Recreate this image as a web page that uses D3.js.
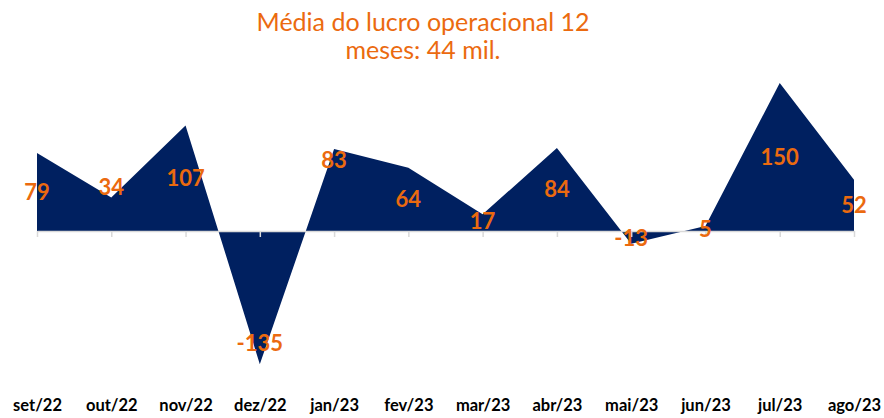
<!DOCTYPE html>
<html>
<head>
<meta charset="utf-8">
<script src="https://cdn.jsdelivr.net/npm/d3@7"></script>
<style>
  body { margin: 0; background: #fff; }
  svg { display: block; font-family: Lato, "Open Sans", sans-serif; }
</style>
</head>
<body>
<div id="chart"></div>
<script>
const months = ["set/22", "out/22", "nov/22", "dez/22", "jan/23", "fev/23",
  "mar/23", "abr/23", "mai/23", "jun/23", "jul/23", "ago/23"];
const profit = [79, 34, 107, -135, 83, 64, 17, 84, -13, 5, 150, 52];
// where each data label sits, in data units (null = middle of the area)
const labelAt = [null, 45, null, -114, 72, null, 10, null, -7, 2, null, null];
const titleLines = ["Média do lucro operacional 12", "meses: 44 mil."];

const W = 884, H = 418;
const NAVY = "#002060";
const ORANGE = "#EB6A0F";

const svg = d3.select("#chart").append("svg")
  .attr("width", W)
  .attr("height", H);

const x = d3.scalePoint().domain(months).range([37, 854]);
const y = d3.scaleLinear().domain([-150, 150]).range([379, 83]);

const data = months.map((m, i) => ({ month: m, value: profit[i], lab: labelAt[i] }));

// title
svg.append("text")
  .attr("x", 423)
  .attr("y", 31)
  .attr("text-anchor", "middle")
  .attr("font-size", "25px")
  .attr("fill", ORANGE)
  .selectAll("tspan")
  .data(titleLines)
  .join("tspan")
  .attr("x", 423)
  .attr("dy", (d, i) => (i === 0 ? 0 : 28))
  .text((d) => d);

// area
const area = d3.area()
  .x((d) => x(d.month))
  .y0(y(0))
  .y1((d) => y(d.value));

svg.append("path")
  .datum(data)
  .attr("fill", NAVY)
  .attr("d", area);

// axis at zero
const xAxis = svg.append("g")
  .attr("transform", `translate(0, ${y(0)})`)
  .call(d3.axisBottom(x).tickSize(6).tickSizeOuter(0));

xAxis.select(".domain").attr("stroke", "#d9d9d9").attr("stroke-width", 1.5);
xAxis.selectAll(".tick line").attr("stroke", "#d9d9d9").attr("stroke-width", 1.5);
xAxis.selectAll(".tick text")
  .attr("y", 180)
  .attr("dy", null)
  .attr("font-size", "16.5px")
  .attr("font-weight", "bold")
  .attr("fill", "#000")
  .attr("font-family", "Lato, sans-serif");

// data labels
svg.append("g")
  .selectAll("text")
  .data(data)
  .join("text")
  .attr("x", (d) => x(d.month))
  .attr("y", (d) => y(d.lab === null ? d.value / 2 : d.lab))
  .attr("dy", "0.36em")
  .attr("text-anchor", "middle")
  .attr("font-size", "22px")
  .attr("font-weight", "bold")
  .attr("fill", ORANGE)
  .text((d) => d.value);
</script>
</body>
</html>
